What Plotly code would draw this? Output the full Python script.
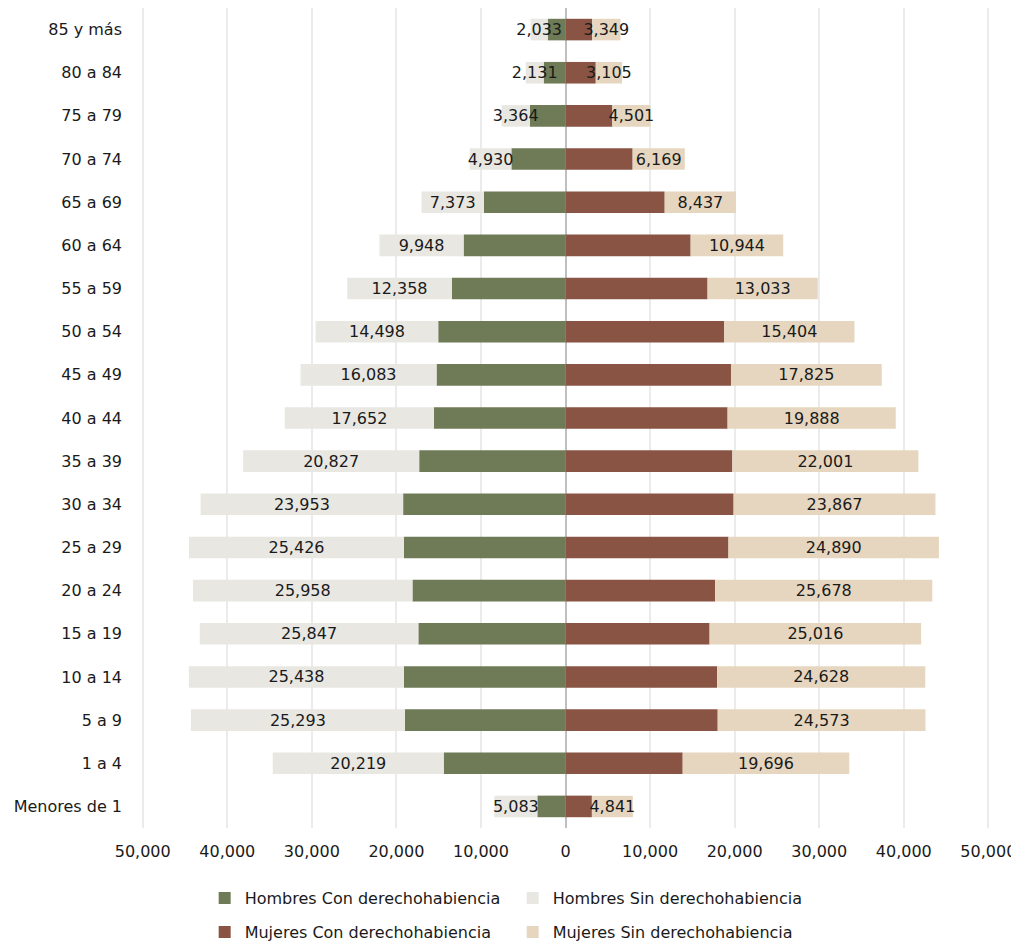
import plotly.graph_objects as go

# Categories (bottom to top)
age_groups = ["Menores de 1", "1 a 4", "5 a 9", "10 a 14", "15 a 19", "20 a 24",
              "25 a 29", "30 a 34", "35 a 39", "40 a 44", "45 a 49", "50 a 54",
              "55 a 59", "60 a 64", "65 a 69", "70 a 74", "75 a 79", "80 a 84", "85 y más"]

hombres_con = [3330, 14400, 19000, 19100, 17400, 18100, 19100, 19200, 17300, 15550,
               15250, 15050, 13450, 12050, 9650, 6400, 4200, 2580, 2100]
hombres_sin = [5083, 20219, 25293, 25438, 25847, 25958, 25426, 23953, 20827, 17652,
               16083, 14498, 12358, 9948, 7373, 4930, 3364, 2131, 2033]
mujeres_con = [3120, 13860, 18000, 17920, 17040, 17700, 19270, 19880, 19730, 19170,
               19570, 18770, 16800, 14800, 11730, 7940, 5540, 3580, 3150]
mujeres_sin = [4841, 19696, 24573, 24628, 25016, 25678, 24890, 23867, 22001, 19888,
               17825, 15404, 13033, 10944, 8437, 6169, 4501, 3105, 3349]

tick_values = [-50000, -40000, -30000, -20000, -10000, 0, 10000, 20000, 30000, 40000, 50000]
tick_labels = ["50,000", "40,000", "30,000", "20,000", "10,000", "0",
               "10,000", "20,000", "30,000", "40,000", "50,000"]

C_H_CON = "#6f7b56"
C_H_SIN = "#e8e7e2"
C_M_CON = "#8a5444"
C_M_SIN = "#e6d6bf"
FONT = "DejaVu Sans"
TXT = "#1a1a1a"

fig = go.Figure()

fig.add_trace(go.Bar(
    y=age_groups, x=[-v for v in hombres_con], orientation="h",
    name="Hombres Con derechohabiencia", marker=dict(color=C_H_CON, line=dict(width=0)),
    legend="legend", hoverinfo="skip"))
fig.add_trace(go.Bar(
    y=age_groups, x=[-v for v in hombres_sin], orientation="h",
    name="Hombres Sin derechohabiencia", marker=dict(color=C_H_SIN, line=dict(width=0)),
    text=[f"{v:,}" for v in hombres_sin], textposition="inside", insidetextanchor="middle",
    textangle=0, textfont=dict(family=FONT, size=16, color=TXT), constraintext="none",
    legend="legend", hoverinfo="skip"))
fig.add_trace(go.Bar(
    y=age_groups, x=mujeres_con, orientation="h",
    name="Mujeres Con derechohabiencia", marker=dict(color=C_M_CON, line=dict(width=0)),
    legend="legend2", hoverinfo="skip"))
fig.add_trace(go.Bar(
    y=age_groups, x=mujeres_sin, orientation="h",
    name="Mujeres Sin derechohabiencia", marker=dict(color=C_M_SIN, line=dict(width=0)),
    text=[f"{v:,}" for v in mujeres_sin], textposition="inside", insidetextanchor="middle",
    textangle=0, textfont=dict(family=FONT, size=16, color=TXT), constraintext="none",
    legend="legend2", hoverinfo="skip"))

legend_common = dict(orientation="h", xanchor="left", x=0.075, yanchor="middle",
                     entrywidth=263, entrywidthmode="pixels",
                     font=dict(family=FONT, size=16, color=TXT),
                     bgcolor="rgba(0,0,0,0)", borderwidth=0, traceorder="normal")

fig.update_layout(
    width=1011, height=933,
    margin=dict(l=133, r=29, t=0, b=113, autoexpand=False),
    barmode="relative", bargap=0.5,
    plot_bgcolor="white", paper_bgcolor="white",
    font=dict(family=FONT, size=16, color=TXT),
    uniformtext=dict(minsize=16, mode="show"),
    legend=dict(legend_common, y=-0.0854),
    legend2=dict(legend_common, y=-0.1268),
    xaxis=dict(range=[-50200, 50200], tickvals=tick_values, ticktext=tick_labels,
               showgrid=True, gridcolor="#ebebeb", gridwidth=2,
               zeroline=True, zerolinecolor="#bfbfbf", zerolinewidth=2,
               showline=False, ticks="", ticklabelstandoff=12, automargin=False,
               tickfont=dict(family=FONT, size=16, color=TXT), fixedrange=True),
    yaxis=dict(categoryorder="array", categoryarray=age_groups,
               showgrid=False, showline=False, ticks="", ticklabelstandoff=18,
               automargin=False,
               tickfont=dict(family=FONT, size=16, color=TXT), fixedrange=True),
)

fig.write_html("out.html")
